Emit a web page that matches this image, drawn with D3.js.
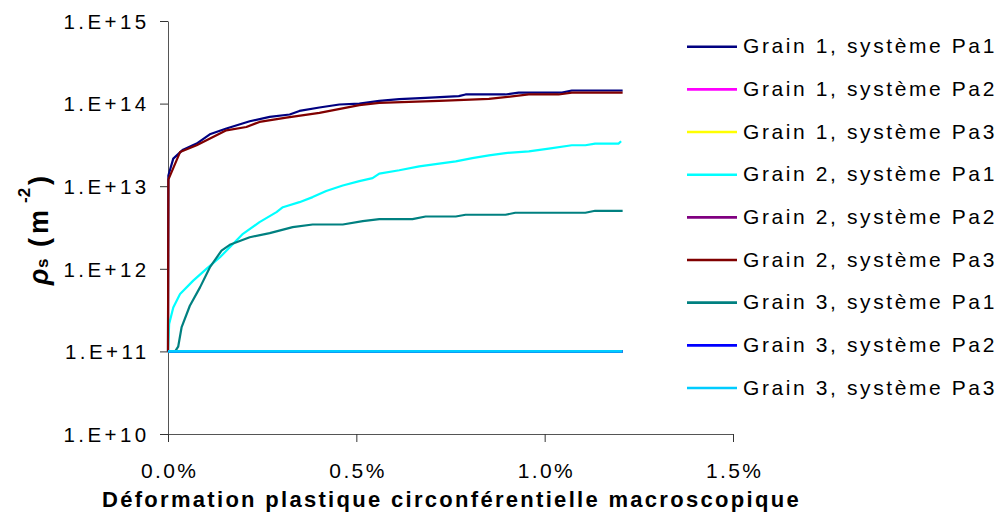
<!DOCTYPE html>
<html><head><meta charset="utf-8">
<script src="https://cdn.jsdelivr.net/npm/d3@7"></script>
<style>
body{margin:0;background:#fff;}
svg{display:block;font-family:"Liberation Sans",Arial,sans-serif;}
</style></head>
<body><svg id="chart" width="1004" height="518"></svg>
<script>
// ---- data (strain in %, dislocation density in m^-2) ----
const seriesNames = [
  "Grain 1, système Pa1","Grain 1, système Pa2","Grain 1, système Pa3",
  "Grain 2, système Pa1","Grain 2, système Pa2","Grain 2, système Pa3",
  "Grain 3, système Pa1","Grain 3, système Pa2","Grain 3, système Pa3"];
const seriesColors = ["#000080","#FF00FF","#FFFF00","#00FFFF","#800080","#800000","#008080","#0000FF","#00CCFF"];

const grain1Pa1 = [[0,1e11],[0.001,1.35e13],[0.014,2.16e13],[0.040,2.77e13],[0.076,3.28e13],[0.111,4.25e13],
  [0.155,4.99e13],[0.217,6.11e13],[0.270,6.9e13],[0.323,7.38e13],[0.349,8.15e13],[0.402,8.97e13],[0.455,9.75e13],
  [0.508,1.0e14],[0.561,1.08e14],[0.614,1.13e14],[0.684,1.17e14],[0.772,1.23e14],[0.790,1.29e14],[0.896,1.29e14],
  [0.931,1.36e14],[1.046,1.36e14],[1.072,1.44e14],[1.207,1.44e14]];
const grain1Pa2 = [[0,1e11],[1.207,1e11]];
const grain1Pa3 = [[0,1e11],[1.207,1e11]];
const grain2Pa1 = [[0,1e11],[0.003,2.14e11],[0.014,3.41e11],[0.032,4.96e11],[0.067,7.19e11],[0.102,9.97e11],
  [0.138,1.38e12],[0.164,1.82e12],[0.199,2.65e12],[0.243,3.67e12],[0.288,4.85e12],[0.305,5.57e12],[0.349,6.41e12],
  [0.384,7.38e12],[0.420,8.73e12],[0.464,1.02e13],[0.508,1.15e13],[0.543,1.25e13],[0.561,1.42e13],[0.614,1.56e13],
  [0.667,1.74e13],[0.720,1.88e13],[0.764,2.0e13],[0.808,2.19e13],[0.852,2.36e13],[0.896,2.52e13],[0.958,2.64e13],
  [1.011,2.85e13],[1.072,3.13e13],[1.108,3.13e13],[1.134,3.28e13],[1.196,3.28e13],[1.203,3.5e13]];
const grain2Pa2 = [[0,1e11],[1.207,1e11]];
const grain2Pa3 = [[0,1e11],[0.001,1.2e13],[0.032,2.59e13],[0.076,3.13e13],[0.155,4.75e13],[0.208,5.21e13],
  [0.243,6.0e13],[0.314,6.78e13],[0.402,7.71e13],[0.508,9.57e13],[0.561,1.02e14],[0.720,1.08e14],[0.852,1.14e14],
  [0.958,1.29e14],[1.037,1.29e14],[1.072,1.36e14],[1.207,1.36e14]];
const grain3Pa1 = [[0,1e11],[0.019,1.0e11],[0.027,1.14e11],[0.036,1.95e11],[0.058,3.57e11],[0.085,5.96e11],
  [0.111,1.04e12],[0.142,1.66e12],[0.164,1.95e12],[0.217,2.41e12],[0.270,2.7e12],[0.331,3.19e12],[0.384,3.44e12],
  [0.464,3.44e12],[0.517,3.77e12],[0.561,3.99e12],[0.649,3.99e12],[0.684,4.3e12],[0.764,4.3e12],[0.790,4.51e12],
  [0.896,4.51e12],[0.922,4.77e12],[1.108,4.77e12],[1.134,5.04e12],[1.207,5.04e12]];
const grain3Pa2 = [[0,1e11],[1.207,1e11]];
const grain3Pa3 = [[0,1e11],[1.207,1e11]];
const seriesData = [grain1Pa1,grain1Pa2,grain1Pa3,grain2Pa1,grain2Pa2,grain2Pa3,grain3Pa1,grain3Pa2,grain3Pa3];

const xTickValues = [0,0.5,1.0,1.5];
const xTickLabels = ["0.0%","0.5%","1.0%","1.5%"];
const yTickValues = [1e10,1e11,1e12,1e13,1e14,1e15];
const yTickLabels = ["1.E+10","1.E+11","1.E+12","1.E+13","1.E+14","1.E+15"];
const xTitle = "Déformation plastique circonférentielle macroscopique";

// ---- layout ----
const svg = d3.select("#chart");
svg.append("rect").attr("width",1004).attr("height",518).attr("fill","#fff");
const x = d3.scaleLinear().domain([0,1.5]).range([168,733]);
const y = d3.scaleLog().domain([1e10,1e15]).range([434,21]);

// axes
const yAxis = svg.append("g").attr("transform","translate(168,0)")
  .call(d3.axisLeft(y).tickValues(yTickValues).tickFormat((d,i)=>yTickLabels[i]).tickSize(8).tickSizeOuter(0).tickPadding(10));
yAxis.select(".domain").attr("stroke","#555");
yAxis.selectAll(".tick line").attr("stroke","#333");
yAxis.selectAll(".tick text").attr("font-size",20.5).attr("fill","#000")
  .attr("font-family","Liberation Sans, Arial, sans-serif")
  .style("letter-spacing","3.4px").attr("x",-18.5).attr("dy","0.36em");

const xAxis = svg.append("g").attr("transform","translate(0,434)")
  .call(d3.axisBottom(x).tickValues(xTickValues).tickFormat((d,i)=>xTickLabels[i]).tickSize(8).tickSizeOuter(0));
xAxis.select(".domain").attr("stroke","#555");
xAxis.selectAll(".tick line").attr("stroke","#333");
xAxis.selectAll(".tick text").attr("font-size",21).attr("fill","#000")
  .attr("font-family","Liberation Sans, Arial, sans-serif")
  .style("letter-spacing","2.4px").attr("y",44).attr("dy",0).attr("dx",1.2);

// lines
const line = d3.line().x(d=>x(d[0])).y(d=>y(d[1]));
svg.append("g").selectAll("path").data(seriesData).join("path")
  .attr("d",line).attr("fill","none")
  .attr("stroke",(d,i)=>seriesColors[i])
  .attr("stroke-width",(d,i)=> d.length===2 ? 2.6 : 2.2)
  .attr("stroke-linejoin","round");

// x title
svg.append("text").attr("x",102).attr("y",506.5)
  .attr("font-size",22).attr("font-weight","bold").style("letter-spacing","2.3px")
  .text(xTitle);

// y title (rotated)
const yt = svg.append("text").attr("transform","translate(48,285) rotate(-90)")
  .attr("font-weight","bold").attr("fill","#000");
yt.append("tspan").attr("x",0).attr("font-size",27).attr("font-style","italic").text("ρ");
yt.append("tspan").attr("x",17).attr("font-size",17).text("s");
yt.append("tspan").attr("x",38).attr("font-size",27).text("(");
yt.append("tspan").attr("x",51).attr("font-size",27).text("m");
yt.append("tspan").attr("x",82).attr("dy",-18).attr("font-size",17).text("-2");
yt.append("tspan").attr("x",100).attr("dy",18).attr("font-size",27).text(")");

// legend
const legend = svg.append("g");
const rowY = d3.scaleLinear().domain([0,8]).range([46.7,388]);
seriesNames.forEach((name,i)=>{
  const g = legend.append("g").attr("transform",`translate(0,${rowY(i)})`);
  g.append("line").attr("x1",687).attr("x2",737).attr("y1",0).attr("y2",0)
    .attr("stroke",seriesColors[i]).attr("stroke-width",2.6);
  g.append("text").attr("x",743).attr("y",6.5).attr("font-size",21)
    .style("letter-spacing","2.6px").attr("fill","#000").text(name);
});
</script></body></html>
